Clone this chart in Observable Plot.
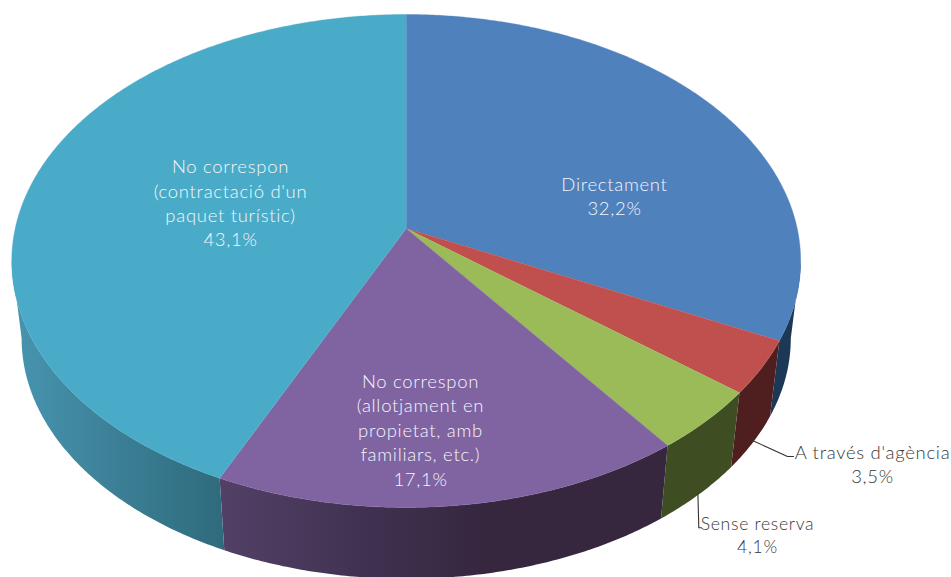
<!DOCTYPE html>
<html><head><meta charset="utf-8">
<style>html,body{margin:0;padding:0;background:#fff}svg{display:block}</style>
<script src="https://cdn.jsdelivr.net/npm/d3@7"></script>
<script src="https://cdn.jsdelivr.net/npm/@observablehq/plot@0.6"></script>
</head><body><div id="chart"></div>
<script>
const categories = ["Directament","A través d'agència","Sense reserva","No correspon (allotjament en propietat, amb familiars, etc.)","No correspon (contractació d'un paquet turístic)"];
const shares = [32.2,3.5,4.1,17.1,43.1];
const topColors = ["#4f81bd","#c0504d","#9bbb59","#8064a2","#4aabc8"];
const wallColors = ["#1d3857","#4f1f1f","#3f4d23","url(#wallPurple)","url(#wallTeal)"];
const labelLines = ["Directament\n32,2%","A través d'agència\n3,5%","Sense reserva\n4,1%","No correspon\n(allotjament en\npropietat, amb\nfamiliars, etc.)\n17,1%","No correspon\n(contractació d'un\npaquet turístic)\n43,1%"];
const labelX = [614,872,757,420,230];
const labelY = [194.5,462.5,533.5,428.5,201.5];
const labelSize = [18.5,18.5,17.6,18.5,18.5];
const labelInk = ["#f4f6fb","#383838","#383838","#f4f6fb","#f4f6fb"];
const leaders = [
  [[752,440],[787,456],[793,456]],
  [[697.4,493],[698.3,527.3],[701,527.3]]
];

// perspective projection of the pie's disc
const cx=405.7, cy=228, A=391, B=242.2, P=0.1318, wallScale=0.975, wallY=306.3;
const widest=90+Math.asin(P)*180/Math.PI;
function proj(deg){
  const t=deg*Math.PI/180, u=Math.sin(t), v=Math.cos(t), d=1+P*v;
  return [A*u/d, -B*v/d];
}
const topPt=deg=>{const [a,b]=proj(deg);return {x:cx+a,y:cy+b};};
const botPt=deg=>{const [a,b]=proj(deg);return {x:cx+wallScale*a,y:wallY+wallScale*b};};
const arc=(a0,a1,fn)=>{const n=Math.max(2,Math.ceil(Math.abs(a1-a0)*2)),r=[];
  for(let i=0;i<=n;i++) r.push(fn(a0+(a1-a0)*i/n)); return r;};

let acc=0;
const slices=shares.map(s=>{const a0=acc*3.6; acc+=s; return [a0,acc*3.6];});
const tops=slices.map(([a0,a1])=>[{x:cx,y:cy},...arc(a0,a1,topPt)]);
const walls=slices.map(([a0,a1])=>{
  const lo=Math.max(a0,widest), hi=Math.min(a1,360-widest);
  return [...arc(lo,hi,topPt),...arc(hi,lo,botPt)];
});

const defs=()=>{
  const d=d3.create("svg:defs");
  const g=(id,x1,x2,stops)=>{
    const l=d.append("linearGradient").attr("id",id).attr("gradientUnits","userSpaceOnUse")
      .attr("x1",x1).attr("x2",x2).attr("y1",0).attr("y2",0);
    stops.forEach(([o,c])=>l.append("stop").attr("offset",o).attr("stop-color",c));
  };
  g("wallTeal",15,224,[[0,"#4794af"],[1,"#2f6a7c"]]);
  g("wallPurple",222,662,[[0,"#524066"],[0.35,"#3f304f"],[0.6,"#36273f"],[1,"#36273f"]]);
  return d.node();
};

const chart=Plot.plot({
  width:951,height:577,margin:0,
  x:{domain:[0,951],range:[0,951],axis:null},
  y:{domain:[0,577],range:[0,577],axis:null},
  style:{fontFamily:"Lato",background:"#fff",letterSpacing:"0.7px"},
  marks:[
    defs,
    ...walls.map((w,i)=>Plot.line(w,{x:"x",y:"y",fill:wallColors[i],stroke:"none"})),
    ...tops.map((t,i)=>Plot.line(t,{x:"x",y:"y",fill:topColors[i],stroke:topColors[i],strokeWidth:0.4})),
    ...leaders.map(l=>Plot.line(l,{x:d=>d[0],y:d=>d[1],stroke:"#333",strokeWidth:1.1})),
    Plot.text(labelLines.map((t,i)=>i),{
      x:i=>labelX[i],y:i=>labelY[i],text:i=>labelLines[i],fill:i=>labelInk[i],
      fontSize:i=>labelSize[i],lineHeight:1.32,lineAnchor:"middle",textAnchor:"middle",fontWeight:300
    })
  ]
});
document.getElementById("chart").append(chart);
</script></body></html>
